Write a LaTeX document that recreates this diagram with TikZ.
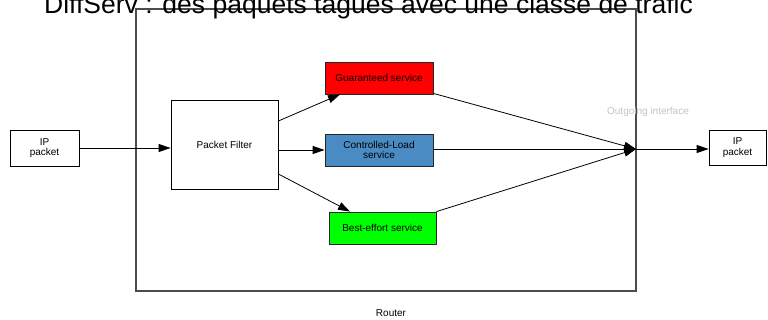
\documentclass[tikz,border=0pt]{standalone}
\usepackage{fontspec}
\setmainfont{Liberation Sans}
\usetikzlibrary{arrows.meta,positioning}
\definecolor{dsred}{HTML}{FF0000}
\definecolor{dsblue}{HTML}{4B8BC3}
\definecolor{dsgreen}{HTML}{00FF00}
\definecolor{dsgray}{HTML}{C4C4C4}
\tikzset{
  pktBox/.style={draw=black, fill=white, line width=0.8pt, align=center, inner sep=0pt, font=\fontsize{10}{10.5}\selectfont},
  svcBox/.style={draw=black!85, line width=0.8pt, align=center, inner sep=0pt, minimum width=108pt, minimum height=32pt, font=\fontsize{10}{10.5}\selectfont},
  routerBox/.style={draw=black!70, line width=1.3pt, inner sep=0pt},
  flowArrow/.style={-{Triangle[length=12pt,width=8pt]}, line width=0.8pt, draw=black},
  flowLine/.style={line width=0.8pt, draw=black},
  smallLabel/.style={font=\fontsize{10}{10.5}\selectfont, inner sep=0pt}
}
\begin{document}
\begin{tikzpicture}[x=1pt,y=-1pt]
  \useasboundingbox (0,0) rectangle (768,320);
  \clip (0,0) rectangle (768,320);
  \fill[white] (0,0) rectangle (768,320);
  % router frame and labels
  \node[routerBox, minimum width=500pt, minimum height=282pt] (router) at (386,150) {};
  \node[anchor=base west, font=\fontsize{26.5}{28}\selectfont, inner sep=0pt] (title) at (44,13.5) {DiffServ : des paquets tagués avec une classe de trafic};
  \node[smallLabel] (routerlbl) at (391,313) {Router};
  \node[smallLabel, text=dsgray] (outlbl) at (648,112) {Outgoing interface};
  % packets and services
  \node[pktBox, minimum width=69pt, minimum height=36pt] (inpkt) at (44.5,148) {IP\\packet};
  \node[pktBox, minimum width=107pt, minimum height=89pt] (filter) at (224.5,144.5) {Packet Filter};
  \node[svcBox, fill=dsred] (guar) at (379,78) {Guaranteed service};
  \node[svcBox, fill=dsblue] (ctrl) at (379,150) {Controlled-Load\\service};
  \node[svcBox, fill=dsgreen, minimum width=107pt] (best) at (382.5,228) {Best-effort service};
  \node[pktBox, minimum width=57pt, minimum height=35pt] (outpkt) at (737.5,147.5) {IP\\packet};
  \coordinate (merge) at (636,149);
  % connectors
  \draw[flowArrow] (inpkt.east) -- (filter.west |- inpkt.east);
  \draw[flowArrow] ([yshift=23.5pt]filter.east) -- ([xshift=-39pt]guar.south);
  \draw[flowArrow] ([yshift=-5.5pt]filter.east) -- (ctrl.west |- 0,150);
  \draw[flowArrow] ([yshift=-29.5pt]filter.east) -- ([xshift=-32.5pt]best.north);
  \draw[flowArrow] ([yshift=1pt]guar.south east) -- (merge);
  \draw[flowArrow] (ctrl.east |- merge) -- (merge);
  \draw[flowArrow] (best.north east) -- (merge);
  \draw[flowArrow] (merge) -- (outpkt.west |- merge);
\end{tikzpicture}
\end{document}
